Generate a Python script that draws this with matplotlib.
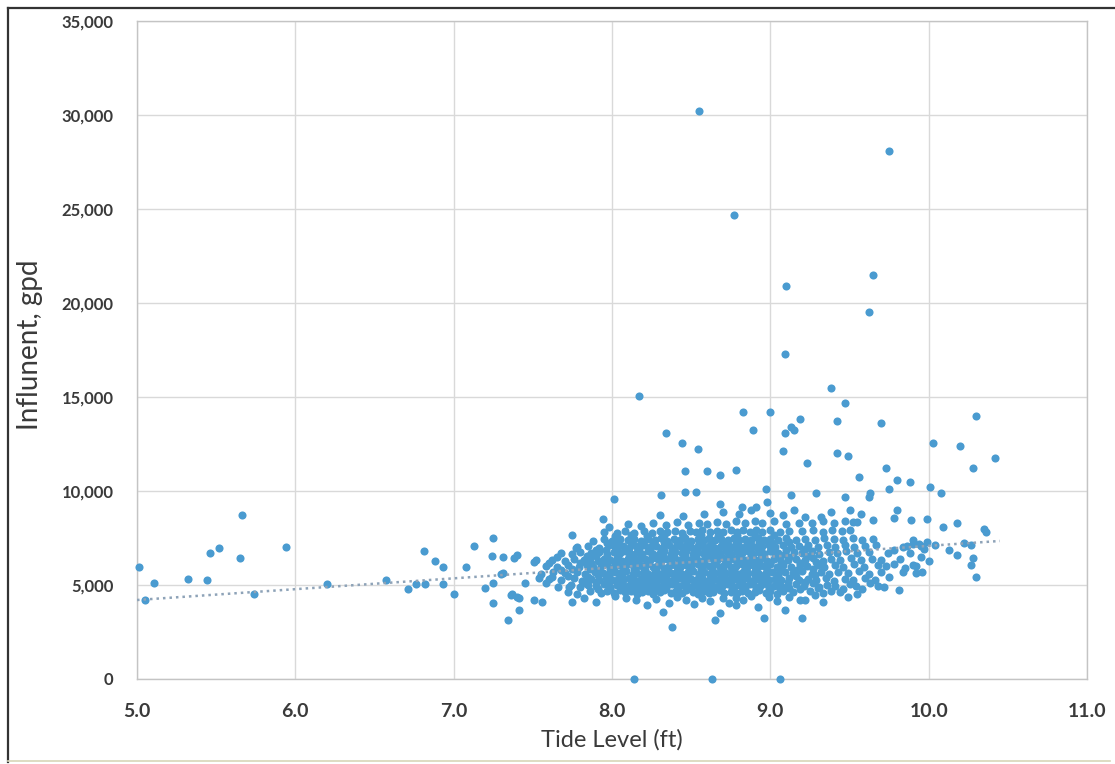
import matplotlib.pyplot as plt
from matplotlib.lines import Line2D
import numpy as np

plt.rcParams['font.family'] = ['Lato', 'DejaVu Sans']

# (tide level ft, influent gpd) readings, grouped loosely by region of the plot
high_points = [
    (8.55, 30200), (9.75, 28100), (8.77, 24700), (9.65, 21500), (9.10, 20900),
    (9.62, 19500), (9.09, 17300), (9.38, 15500), (8.17, 15050), (9.47, 14700),
    (8.83, 14200), (9.00, 14200), (10.30, 14000), (9.19, 13850), (9.42, 13700),
    (9.70, 13600), (8.34, 13100), (8.89, 13250), (9.13, 13400), (9.15, 13250),
    (9.09, 13100), (8.44, 12550), (8.54, 12250), (9.08, 12150), (10.03, 12550),
    (10.20, 12400), (9.42, 12000), (9.49, 11850), (10.42, 11750), (9.23, 11500),
    (8.46, 11050), (8.60, 11050), (8.68, 10850), (8.78, 11100), (9.73, 11200),
    (10.28, 11200), (9.56, 10750), (9.80, 10600), (9.88, 10450), (9.75, 10100),
    (10.01, 10200), (10.08, 9900), (8.31, 9800), (8.46, 9950), (8.53, 9950),
    (8.97, 10100), (9.13, 9800), (9.29, 9900), (9.47, 9700), (9.63, 9900),
    (9.62, 9680), (8.01, 9550), (8.68, 9300), (8.98, 9400), (8.82, 9150),
    (8.91, 9150),
]

left_points = [
    (5.01, 5960), (5.05, 4200), (5.11, 5110), (5.32, 5320), (5.44, 5270),
    (5.46, 6700), (5.52, 6970), (5.65, 6440), (5.66, 8720), (5.74, 4520),
    (5.94, 7020), (6.20, 5050), (6.57, 5270), (6.71, 4790), (6.76, 5050),
    (6.82, 5050), (6.81, 6810), (6.88, 6280), (6.93, 5960), (6.93, 5050),
    (7.00, 4520), (7.08, 5960), (7.13, 7070), (7.20, 4840), (7.25, 7500),
    (7.25, 4040), (7.24, 6540), (7.25, 5110), (7.31, 5640), (7.31, 6490),
    (7.34, 3140), (7.36, 4470), (7.38, 6440), (7.41, 3670), (7.41, 4310),
    (7.45, 5110), (7.51, 6220), (7.51, 4200), (7.56, 4100), (7.40, 6600),
    (7.52, 6330), (7.60, 6170), (7.75, 7660), (7.77, 6970), (7.65, 6490),
    (7.30, 5590), (7.37, 4520), (7.40, 4360), (7.54, 5370), (7.58, 5110),
    (7.75, 4100), (7.73, 4890), (7.94, 8510), (7.68, 5800), (7.62, 5450),
]

zero_points = [(8.14, 0), (8.63, 0), (9.06, 0)]

low_fringe = [
    (7.82, 4310), (7.90, 4120), (8.02, 4400), (8.09, 4310), (8.15, 4180),
    (8.22, 3950), (8.28, 4250), (8.32, 3570), (8.36, 4050), (8.38, 2770),
    (8.41, 4380), (8.47, 4200), (8.52, 3980), (8.57, 4330), (8.62, 4150),
    (8.65, 3140), (8.68, 3510), (8.70, 4280), (8.74, 4020), (8.78, 4310),
    (8.78, 3940), (8.83, 4220), (8.88, 4400), (8.92, 3830), (8.96, 3250),
    (8.99, 4350), (9.04, 4150), (9.09, 3670), (9.12, 4380), (9.19, 4200),
    (9.20, 3250), (9.22, 4200), (9.28, 4450), (9.33, 4570), (9.33, 4100),
    (9.44, 4630), (9.49, 4360), (9.55, 4500), (9.72, 4890), (9.81, 4730),
]

lower_band = [
    (7.72, 4650), (7.78, 4520), (7.86, 4700), (7.93, 4580), (7.97, 4690),
    (8.01, 4560), (8.05, 4720), (8.08, 4600), (8.12, 4680), (8.16, 4540),
    (8.19, 4640), (8.23, 4700), (8.26, 4520), (8.30, 4620), (8.33, 4710),
    (8.37, 4560), (8.40, 4650), (8.44, 4580), (8.47, 4720), (8.51, 4600),
    (8.54, 4530), (8.58, 4690), (8.61, 4580), (8.64, 4650), (8.68, 4720),
    (8.71, 4560), (8.75, 4640), (8.79, 4590), (8.82, 4700), (8.86, 4560),
    (8.90, 4640), (8.93, 4720), (8.97, 4580), (9.00, 4660), (9.04, 4540),
    (9.08, 4700), (9.14, 4620), (9.25, 4700), (9.38, 4680), (9.46, 4800),
    (9.58, 4760),
    (7.66, 4900), (7.74, 5000), (7.80, 4880), (7.85, 5020), (7.90, 4930),
    (7.95, 5050), (7.99, 4900), (8.03, 4980), (8.06, 5060), (8.10, 4920),
    (8.14, 5010), (8.17, 4890), (8.21, 5040), (8.24, 4950), (8.28, 5010),
    (8.31, 4880), (8.35, 4990), (8.38, 5060), (8.42, 4920), (8.45, 5020),
    (8.49, 4890), (8.52, 4990), (8.56, 5070), (8.59, 4930), (8.63, 5010),
    (8.66, 4880), (8.70, 4980), (8.73, 5060), (8.77, 4910), (8.80, 5000),
    (8.84, 4950), (8.87, 5070), (8.91, 4900), (8.94, 4990), (8.98, 5050),
    (9.02, 4920), (9.06, 5010), (9.10, 4880), (9.16, 5040), (9.21, 4960),
    (9.27, 5080), (9.31, 4900), (9.36, 5000), (9.41, 4950), (9.50, 5050),
    (9.54, 4920), (9.63, 5100), (9.68, 4960),
    (7.60, 5300), (7.68, 5250), (7.76, 5350), (7.81, 5220), (7.87, 5330),
    (7.92, 5260), (7.96, 5380), (8.00, 5240), (8.04, 5330), (8.07, 5260),
    (8.11, 5380), (8.15, 5230), (8.18, 5320), (8.22, 5250), (8.25, 5390),
    (8.29, 5270), (8.32, 5340), (8.36, 5220), (8.39, 5310), (8.43, 5380),
    (8.46, 5240), (8.50, 5330), (8.53, 5260), (8.57, 5370), (8.60, 5230),
    (8.64, 5320), (8.67, 5280), (8.71, 5390), (8.74, 5240), (8.78, 5330),
    (8.81, 5260), (8.85, 5360), (8.88, 5220), (8.92, 5310), (8.95, 5390),
    (8.99, 5250), (9.03, 5340), (9.07, 5270), (9.12, 5380), (9.18, 5240),
    (9.24, 5330), (9.29, 5280), (9.35, 5380), (9.40, 5230), (9.47, 5320),
    (9.52, 5260), (9.60, 5350), (9.66, 5280), (9.75, 5420),
]

middle_band = [
    (7.55, 5600), (7.63, 5700), (7.70, 5620), (7.78, 5680), (7.83, 5580),
    (7.89, 5710), (7.94, 5630), (7.98, 5560), (8.02, 5690), (8.05, 5610),
    (8.09, 5720), (8.13, 5580), (8.16, 5660), (8.20, 5730), (8.23, 5600),
    (8.27, 5680), (8.30, 5570), (8.34, 5700), (8.37, 5620), (8.41, 5740),
    (8.44, 5590), (8.48, 5670), (8.51, 5720), (8.55, 5600), (8.58, 5690),
    (8.62, 5560), (8.65, 5650), (8.69, 5730), (8.72, 5610), (8.76, 5680),
    (8.80, 5570), (8.83, 5700), (8.86, 5630), (8.90, 5740), (8.93, 5590),
    (8.97, 5660), (9.01, 5710), (9.05, 5600), (9.09, 5680), (9.14, 5620),
    (9.20, 5720), (9.26, 5600), (9.32, 5690), (9.37, 5580), (9.43, 5700),
    (9.49, 5640), (9.56, 5720), (9.62, 5600), (9.70, 5680), (9.84, 5700),
    (9.92, 5640),
    (7.58, 6000), (7.65, 5950), (7.72, 6060), (7.79, 5960), (7.84, 6080),
    (7.88, 5940), (7.93, 6030), (7.97, 6090), (8.01, 5950), (8.04, 6040),
    (8.08, 5980), (8.12, 6090), (8.15, 5930), (8.19, 6020), (8.22, 6100),
    (8.26, 5960), (8.29, 6050), (8.33, 5920), (8.36, 6010), (8.40, 6080),
    (8.43, 5950), (8.47, 6040), (8.50, 5980), (8.54, 6100), (8.57, 5940),
    (8.61, 6030), (8.64, 6080), (8.68, 5960), (8.71, 6050), (8.75, 5930),
    (8.78, 6020), (8.82, 6090), (8.85, 5970), (8.89, 6060), (8.92, 5940),
    (8.96, 6030), (9.00, 6100), (9.04, 5960), (9.08, 6040), (9.13, 5930),
    (9.19, 6060), (9.23, 5990), (9.30, 6080), (9.34, 5950), (9.41, 6040),
    (9.46, 5980), (9.53, 6090), (9.59, 5960), (9.68, 6050), (9.73, 5990),
    (9.78, 6110), (9.90, 6050),
    (7.62, 6350), (7.70, 6300), (7.76, 6400), (7.82, 6320), (7.86, 6420),
    (7.91, 6300), (7.95, 6390), (7.99, 6330), (8.03, 6420), (8.06, 6290),
    (8.10, 6380), (8.14, 6440), (8.17, 6310), (8.21, 6400), (8.24, 6340),
    (8.28, 6450), (8.31, 6290), (8.35, 6370), (8.38, 6430), (8.42, 6310),
    (8.45, 6400), (8.49, 6340), (8.52, 6450), (8.56, 6300), (8.59, 6380),
    (8.63, 6440), (8.66, 6320), (8.70, 6410), (8.73, 6290), (8.77, 6370),
    (8.80, 6440), (8.84, 6310), (8.87, 6400), (8.91, 6350), (8.94, 6440),
    (8.98, 6300), (9.02, 6380), (9.06, 6430), (9.11, 6310), (9.16, 6400),
    (9.22, 6330), (9.27, 6420), (9.33, 6300), (9.38, 6390), (9.44, 6340),
    (9.51, 6420), (9.57, 6310), (9.64, 6400), (9.70, 6330), (9.82, 6380),
    (7.68, 6700), (7.75, 6650), (7.80, 6760), (7.87, 6680), (7.92, 6740),
    (7.97, 6640), (8.01, 6750), (8.05, 6690), (8.08, 6780), (8.12, 6650),
    (8.16, 6730), (8.19, 6670), (8.23, 6790), (8.26, 6640), (8.30, 6720),
    (8.33, 6780), (8.37, 6660), (8.40, 6740), (8.44, 6690), (8.47, 6800),
    (8.51, 6650), (8.54, 6730), (8.58, 6670), (8.61, 6790), (8.65, 6640),
    (8.68, 6720), (8.72, 6780), (8.75, 6660), (8.79, 6750), (8.82, 6690),
    (8.86, 6800), (8.89, 6650), (8.93, 6730), (8.96, 6670), (9.00, 6780),
    (9.05, 6700), (9.09, 6640), (9.15, 6760), (9.20, 6690), (9.26, 6780),
    (9.31, 6660), (9.37, 6740), (9.42, 6680), (9.48, 6790), (9.55, 6700),
    (9.62, 6760), (9.74, 6700), (9.78, 6860),
]

upper_band = [
    (7.78, 7000), (7.85, 7080), (7.92, 6990), (7.98, 7100), (8.02, 7020),
    (8.07, 7090), (8.11, 6980), (8.15, 7060), (8.20, 7120), (8.24, 7000),
    (8.28, 7080), (8.32, 7010), (8.36, 7110), (8.39, 6990), (8.43, 7070),
    (8.47, 7130), (8.50, 7000), (8.54, 7090), (8.58, 7030), (8.62, 7120),
    (8.65, 6990), (8.69, 7070), (8.73, 7140), (8.76, 7010), (8.80, 7090),
    (8.84, 7020), (8.88, 7120), (8.91, 7000), (8.95, 7080), (8.99, 7150),
    (9.03, 7030), (9.08, 7100), (9.13, 7000), (9.18, 7080), (9.24, 7130),
    (9.30, 7020), (9.36, 7100), (9.41, 7040), (9.47, 7120), (9.53, 7010),
    (9.60, 7090), (9.67, 7150), (9.86, 7050), (9.90, 7160), (9.95, 7080),
    (7.88, 7350), (7.95, 7420), (8.00, 7330), (8.05, 7440), (8.10, 7370),
    (8.14, 7460), (8.18, 7340), (8.23, 7420), (8.27, 7370), (8.31, 7480),
    (8.35, 7350), (8.39, 7430), (8.43, 7380), (8.46, 7490), (8.50, 7360),
    (8.54, 7440), (8.58, 7390), (8.61, 7500), (8.65, 7370), (8.69, 7450),
    (8.73, 7400), (8.77, 7510), (8.80, 7380), (8.84, 7460), (8.88, 7400),
    (8.92, 7520), (8.96, 7380), (9.00, 7450), (9.05, 7390), (9.10, 7500),
    (9.16, 7400), (9.22, 7470), (9.28, 7390), (9.34, 7500), (9.40, 7420),
    (9.46, 7380), (9.52, 7480), (9.58, 7400), (9.65, 7470),
    (7.95, 7800), (8.03, 7760), (8.08, 7850), (8.14, 7780), (8.20, 7860),
    (8.25, 7790), (8.30, 7880), (8.35, 7800), (8.40, 7870), (8.44, 7780),
    (8.49, 7890), (8.53, 7810), (8.57, 7900), (8.62, 7800), (8.66, 7880),
    (8.70, 7820), (8.75, 7910), (8.79, 7830), (8.83, 7900), (8.87, 7820),
    (8.91, 7930), (8.95, 7840), (9.00, 7910), (9.06, 7800), (9.12, 7880),
    (9.20, 7850), (9.27, 7920), (9.33, 7830), (9.39, 7900), (9.45, 7850),
    (9.50, 7930),
    (7.98, 8100), (8.10, 8250), (8.18, 8150), (8.26, 8300), (8.34, 8200),
    (8.41, 8330), (8.48, 8180), (8.55, 8320), (8.60, 8220), (8.66, 8360),
    (8.72, 8250), (8.78, 8400), (8.84, 8280), (8.90, 8420), (8.95, 8300),
    (9.02, 8380), (9.10, 8250), (9.18, 8320), (9.26, 8280), (9.33, 8400),
    (9.40, 8300), (9.47, 8420), (9.55, 8350),
]

# the packed centre of the cloud, between the rows above
core_fill = [
    (7.91, 4790), (7.99, 4830), (8.07, 4770), (8.14, 4850), (8.20, 4800),
    (8.27, 4760), (8.34, 4840), (8.41, 4790), (8.49, 4830), (8.55, 4770),
    (8.62, 4850), (8.69, 4800), (8.76, 4770), (8.84, 4830), (8.91, 4790),
    (8.99, 4850), (9.06, 4770), (9.12, 4820), (9.19, 4790), (9.30, 4850),
    (7.83, 5130), (7.90, 5170), (7.97, 5100), (8.05, 5160), (8.12, 5120),
    (8.19, 5180), (8.26, 5110), (8.33, 5150), (8.40, 5190), (8.47, 5120),
    (8.54, 5160), (8.61, 5100), (8.68, 5170), (8.75, 5130), (8.82, 5180),
    (8.89, 5110), (8.96, 5150), (9.04, 5120), (9.11, 5170), (9.22, 5140),
    (7.72, 5480), (7.85, 5450), (7.91, 5510), (7.98, 5460), (8.06, 5500),
    (8.13, 5440), (8.20, 5520), (8.27, 5470), (8.34, 5500), (8.41, 5450),
    (8.48, 5520), (8.55, 5480), (8.62, 5510), (8.69, 5440), (8.76, 5500),
    (8.83, 5470), (8.90, 5520), (8.97, 5450), (9.05, 5500), (9.16, 5470),
    (9.28, 5510),
    (7.75, 5830), (7.86, 5860), (7.92, 5800), (7.99, 5850), (8.07, 5810),
    (8.14, 5870), (8.21, 5820), (8.28, 5860), (8.35, 5800), (8.42, 5850),
    (8.49, 5810), (8.56, 5870), (8.63, 5830), (8.70, 5860), (8.77, 5800),
    (8.84, 5840), (8.91, 5880), (8.98, 5820), (9.06, 5860), (9.17, 5810),
    (9.27, 5850),
    (7.80, 6180), (7.87, 6150), (7.94, 6210), (8.02, 6160), (8.09, 6220),
    (8.16, 6170), (8.23, 6200), (8.30, 6150), (8.37, 6210), (8.44, 6180),
    (8.51, 6220), (8.58, 6160), (8.65, 6200), (8.72, 6150), (8.79, 6210),
    (8.86, 6170), (8.93, 6220), (9.00, 6160), (9.07, 6200), (9.19, 6170),
    (9.29, 6210),
    (7.84, 6530), (7.90, 6560), (7.97, 6500), (8.04, 6550), (8.11, 6510),
    (8.18, 6570), (8.25, 6520), (8.32, 6560), (8.39, 6500), (8.46, 6550),
    (8.53, 6520), (8.60, 6570), (8.67, 6510), (8.74, 6550), (8.81, 6500),
    (8.88, 6560), (8.95, 6530), (9.03, 6570), (9.12, 6510), (9.24, 6550),
    (7.90, 6880), (7.96, 6850), (8.03, 6900), (8.10, 6860), (8.17, 6910),
    (8.24, 6870), (8.31, 6900), (8.38, 6850), (8.45, 6910), (8.52, 6870),
    (8.59, 6900), (8.66, 6860), (8.73, 6920), (8.80, 6870), (8.87, 6900),
    (8.94, 6860), (9.01, 6910), (9.10, 6870), (9.22, 6900),
    (7.97, 7230), (8.04, 7260), (8.12, 7210), (8.19, 7270), (8.26, 7220),
    (8.33, 7260), (8.41, 7230), (8.48, 7280), (8.55, 7220), (8.63, 7260),
    (8.70, 7230), (8.78, 7280), (8.85, 7220), (8.93, 7260), (9.01, 7230),
    (9.12, 7270),
    (8.02, 7600), (8.12, 7640), (8.22, 7590), (8.33, 7650), (8.45, 7600),
    (8.56, 7660), (8.67, 7610), (8.79, 7650), (8.90, 7600), (9.02, 7660),
]

high_fringe = [
    (8.30, 8700), (8.45, 8650), (8.58, 8800), (8.70, 8900), (8.80, 8750),
    (8.88, 9000), (9.00, 8850), (9.08, 8700), (9.15, 8990), (9.22, 8600),
    (9.32, 8620), (9.38, 8880), (9.50, 8990), (9.52, 8350), (9.57, 8780),
    (9.65, 8450), (9.80, 8990), (9.78, 8560), (9.89, 8460), (9.99, 8510),
    (9.84, 7020), (9.90, 7390), (9.94, 7200), (9.99, 7300), (10.04, 7100),
    (9.97, 6900), (9.88, 6700), (9.95, 6500), (10.00, 6250), (9.92, 6000),
    (9.85, 5900), (9.96, 5700),
    (10.09, 8090), (10.18, 8300), (10.35, 7980), (10.36, 7820), (10.22, 7230),
    (10.27, 7130), (10.13, 6860), (10.18, 6600), (10.28, 6440), (10.27, 6060),
    (10.30, 5430),
]

# linear trend as drawn on the chart (ends of the fitted line)
trend_tide = [5.0, 10.45]
trend_flow = [4200, 7340]

groups = [high_points, left_points, zero_points, low_fringe, lower_band,
          middle_band, upper_band, core_fill, high_fringe]
tide, flow = np.array([p for g in groups for p in g], dtype=float).T

fig = plt.figure(figsize=(11.15, 7.64), dpi=100)
ax = fig.add_axes([0.1229, 0.1113, 0.852, 0.8613])

ax.scatter(tide, flow, s=34, color='#4a9bd0', linewidths=0,
           zorder=3, clip_on=False)

ax.plot(trend_tide, trend_flow, linestyle=(0, (1, 1.6)),
        color='#8ea3b8', linewidth=1.8, zorder=4)

ax.set_xlim(5, 11)
ax.set_ylim(0, 35000)
ax.set_xticks(np.arange(5, 11.01, 1))
ax.set_xticklabels([f'{v:.1f}' for v in np.arange(5, 11.01, 1)])
ax.set_yticks(np.arange(0, 35001, 5000))
ax.set_yticklabels([f'{v:,}' for v in range(0, 35001, 5000)])
ax.tick_params(length=0)
ax.tick_params(axis='y', labelsize=12, labelcolor='#3a3a3a', pad=17)
ax.tick_params(axis='x', labelsize=14, labelcolor='#3a3a3a', pad=17)
for lab in ax.get_yticklabels() + ax.get_xticklabels():
    lab.set_fontweight('bold')

ax.grid(color='#d9d9d9', linewidth=1)
ax.set_axisbelow(True)
for sp in ax.spines.values():
    sp.set_color('#c4c4c4')
    sp.set_linewidth(1)

fig.text(612 / 1115, 1 - 740 / 764, 'Tide Level (ft)', fontsize=17,
         color='#3a3a3a', ha='center', va='center')
fig.text(30 / 1115, 1 - 345 / 764, 'Influnent, gpd', fontsize=20,
         color='#3a3a3a', ha='center', va='center', rotation=90)

# outer frame around the whole figure
fig.add_artist(Line2D([8 / 1115, 8 / 1115], [2 / 764, 1 - 8 / 764],
                      transform=fig.transFigure, color='#333333', lw=1.6))
fig.add_artist(Line2D([8 / 1115, 1], [1 - 8 / 764, 1 - 8 / 764],
                      transform=fig.transFigure, color='#333333', lw=1.6))
fig.add_artist(Line2D([8 / 1115, 1110 / 1115], [3 / 764, 3 / 764],
                      transform=fig.transFigure, color='#d8d6b8', lw=1.2))

fig.savefig('out.png', dpi=100)
